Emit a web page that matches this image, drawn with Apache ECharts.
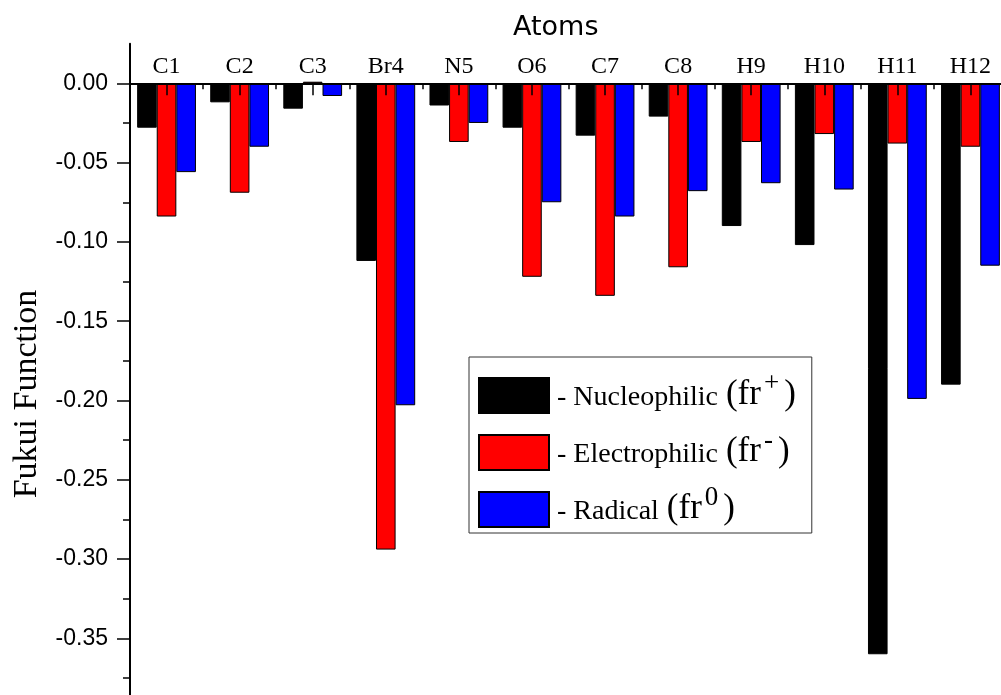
<!DOCTYPE html>
<html>
<head>
<meta charset="utf-8">
<script src="https://cdn.jsdelivr.net/npm/echarts@6/dist/echarts.min.js"></script>
<style>
html,body{margin:0;padding:0;background:#fff;}
#chart{width:1001px;height:695px;}
</style>
</head>
<body>
<div id="chart"></div>
<script>
// ---- data ----
const categories = ['C1','C2','C3','Br4','N5','O6','C7','C8','H9','H10','H11','H12'];
const nucleophilic = [-0.028, -0.012, -0.016, -0.112, -0.014, -0.028, -0.033, -0.021, -0.090, -0.102, -0.360, -0.190];
const electrophilic = [-0.084, -0.069, 0.001, -0.294, -0.037, -0.122, -0.134, -0.116, -0.037, -0.032, -0.038, -0.040];
const radical = [-0.056, -0.040, -0.008, -0.203, -0.025, -0.075, -0.084, -0.068, -0.063, -0.067, -0.199, -0.115];
const seriesNames = ['Nucleophilic', 'Electrophilic', 'Radical'];
const legendLabels = {
  'Nucleophilic': '{a|- Nucleophilic }{b|(fr}{s|+}{b|)}',
  'Electrophilic': '{a|- Electrophilic }{b|(fr}{s|-}{b|)}',
  'Radical': '{a|- Radical }{b|(fr}{s|0}{b|)}'
};
const yTopValue = 0.025;
const yBottomValue = -0.4;

// ---- layout ----
const K = 1586;          // px per unit
const zeroY = 83.3;
const gridLeft = 130;
const gridWidth = 877;

const chart = echarts.init(document.getElementById('chart'), null, {renderer: 'canvas'});
const serif = 'Liberation Serif, Times New Roman, serif';
const sans = 'Liberation Sans, Arial, sans-serif';

function barSeries(name, data, color) {
  return {
    name: name, type: 'bar', data: data,
    xAxisIndex: 0, yAxisIndex: 0,
    barWidth: 19.6, barGap: '0%',
    itemStyle: {color: color, borderColor: '#000', borderWidth: 1},
    emphasis: {disabled: true}
  };
}

chart.setOption({
  animation: false,
  backgroundColor: '#fff',
  title: {
    text: 'Atoms', left: 513, top: 14, padding: 0,
    textStyle: {fontFamily: 'DejaVu Sans', fontSize: 27, fontWeight: 'normal', color: '#000'}
  },
  legend: {
    orient: 'vertical', left: 469, top: 357,
    padding: [13, 15, 5, 9],
    itemWidth: 70, itemHeight: 35, itemGap: 13,
    icon: 'rect',
    backgroundColor: '#fff',
    borderColor: '#333', borderWidth: 1,
    data: seriesNames,
    formatter: function (n) { return legendLabels[n]; },
    textStyle: {
      padding: [0, 0, 3, 3],
      rich: {
        a: {fontFamily: serif, fontSize: 28, color: '#000', lineHeight: 32, verticalAlign: 'bottom'},
        b: {fontFamily: serif, fontSize: 35, color: '#000', lineHeight: 36, verticalAlign: 'bottom', padding: [0, 1, 0, 1]},
        s: {fontFamily: serif, fontSize: 27, color: '#000', lineHeight: 27, padding: [0, 4, 15, 2], verticalAlign: 'bottom'}
      }
    }
  },
  graphic: [{
    type: 'text', x: 27, y: 394, rotation: Math.PI / 2,
    style: {text: 'Fukui Function', fontFamily: serif, fontSize: 34, fill: '#000', textAlign: 'center', textVerticalAlign: 'middle'}
  }],
  grid: [
    {left: gridLeft, top: zeroY - yTopValue * K, width: gridWidth, height: (yTopValue - yBottomValue) * K, containLabel: false, outerBoundsMode: 'none'},
    {left: gridLeft, top: zeroY, width: gridWidth, height: (0 - yBottomValue) * K, containLabel: false, outerBoundsMode: 'none'}
  ],
  xAxis: [
    {
      gridIndex: 0, type: 'category', data: categories, position: 'top', z: 6,
      axisLine: {onZero: true, lineStyle: {color: '#000', width: 2}},
      axisTick: {show: true, alignWithLabel: false, interval: 0, inside: true, length: 6, lineStyle: {color: '#000', width: 1.5}},
      axisLabel: {show: false},
      splitLine: {show: false}
    },
    {
      gridIndex: 1, type: 'category', data: categories, position: 'top', z: 6,
      axisLine: {onZero: false, lineStyle: {color: '#000', width: 2}},
      axisTick: {show: true, alignWithLabel: true, interval: 0, inside: true, length: 12, lineStyle: {color: '#000', width: 1.5}},
      axisLabel: {interval: 0, margin: 5, fontFamily: serif, fontSize: 24, color: '#000'},
      splitLine: {show: false}
    }
  ],
  yAxis: [
    {
      gridIndex: 0, type: 'value', min: yBottomValue, max: yTopValue, z: 6,
      axisLine: {show: true, lineStyle: {color: '#000', width: 2}},
      axisTick: {show: false}, axisLabel: {show: false}, splitLine: {show: false}
    },
    {
      gridIndex: 1, type: 'value', min: yBottomValue, max: 0, interval: 0.05, z: 6,
      axisLine: {show: true, onZero: false, lineStyle: {color: '#000', width: 2}},
      axisTick: {show: true, length: 13, lineStyle: {color: '#000', width: 1.5}},
      minorTick: {show: true, splitNumber: 2, length: 7, lineStyle: {color: '#000', width: 1.5}},
      axisLabel: {margin: 22, fontFamily: sans, fontSize: 23, color: '#000',
        formatter: function (v) { return (Math.abs(v) < 1e-9 ? 0 : v).toFixed(2); }},
      splitLine: {show: false}
    }
  ],
  series: [
    barSeries(seriesNames[0], nucleophilic, '#000000'),
    barSeries(seriesNames[1], electrophilic, '#ff0000'),
    barSeries(seriesNames[2], radical, '#0000ff')
  ]
});
</script>
</body>
</html>
